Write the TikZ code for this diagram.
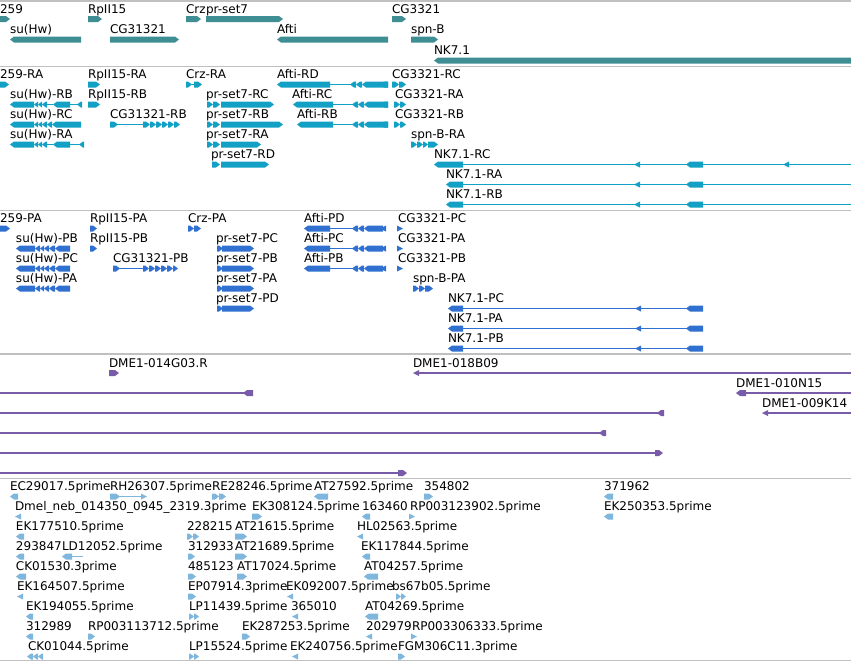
\documentclass[tikz,border=0pt]{standalone}
\usepackage{fontspec}
\setmainfont{DejaVu Sans}
\newcount\lbc
\definecolor{gC}{RGB}{62,142,148}
\definecolor{tC}{RGB}{18,160,196}
\definecolor{pC}{RGB}{48,112,208}
\definecolor{uC}{RGB}{120,92,170}
\definecolor{lC}{RGB}{126,182,222}
\definecolor{sepC}{RGB}{192,192,192}
\tikzset{lbl/.style={anchor=base west,inner sep=0pt,outer sep=0pt,font=\fontsize{12}{12}\selectfont,text=black},
 sepline/.style={draw=sepC,line width=1.5pt}}
% forward block: x1 x2 y colour
\newcommand\gf[4]{\fill[#4] (#1,{#3-3}) -- ({#2-4},{#3-3}) -- (#2,#3) -- ({#2-4},{#3+3}) -- (#1,{#3+3}) -- cycle;}
% reverse block
\newcommand\gr[4]{\fill[#4] (#1,#3) -- ({#1+4},{#3-3}) -- (#2,{#3-3}) -- (#2,{#3+3}) -- ({#1+4},{#3+3}) -- cycle;}
% intron / line
\newcommand\intr[4]{\draw[#4,line width=1.2pt] (#1,#3) -- (#2,#3);}
% small triangles
\newcommand\tril[3]{\fill[#3] (#1,#2) -- ({#1+6},{#2-3}) -- ({#1+6},{#2+3}) -- cycle;}
\newcommand\trir[3]{\fill[#3] (#1,#2) -- ({#1-6},{#2-3}) -- ({#1-6},{#2+3}) -- cycle;}
% label
\newcommand\lb[3]{\node[lbl] (n\the\lbc) at (#1,#2) {#3};\global\advance\lbc by 1 }
\begin{document}
\begin{tikzpicture}[x=1pt,y=-1pt]
\fill[white] (0,0) rectangle (851,662);
\useasboundingbox (0,0) rectangle (851,662);
% separators
\foreach \yy in {1,66.5,210.5,354,478.5,660.5} \draw[sepline] (0,\yy) -- (851,\yy);
% ================= track 1 genes
\lb{0}{13}{259}\gf{0}{10}{19}{gC}
\lb{88}{13}{RpII15}\gf{88}{102}{19}{gC}
\lb{186}{13}{Crz}\gf{186}{201}{19}{gC}
\lb{206}{13}{pr-set7}\gf{206}{283}{19}{gC}
\lb{392}{13}{CG3321}\gf{392}{406}{19}{gC}
\lb{10}{33.5}{su(Hw)}\gr{10}{81}{39.5}{gC}
\lb{110}{33.5}{CG31321}\gf{110}{179}{39.5}{gC}
\lb{277}{33.5}{Afti}\gr{277}{388}{39.5}{gC}
\lb{411}{33.5}{spn-B}\gf{411}{438}{39.5}{gC}
\lb{434}{54.5}{NK7.1}\gr{434}{851}{60.5}{gC}
% ================= track 2 transcripts
% row A 84.5
\lb{0}{78.5}{259-RA}\gf{0}{9}{84.5}{tC}
\lb{88}{78.5}{RpII15-RA}\gf{88}{100}{84.5}{tC}
\lb{186}{78.5}{Crz-RA}\gf{186}{192}{84.5}{tC}\intr{192}{195}{84.5}{tC}\gf{194}{202}{84.5}{tC}
\lb{277}{78.5}{Afti-RD}\gr{277}{330}{84.5}{tC}\intr{330}{351}{84.5}{tC}\gr{350}{356}{84.5}{tC}\gr{356}{362}{84.5}{tC}\gr{362}{388}{84.5}{tC}
\lb{392}{78.5}{CG3321-RC}\gr{380}{388}{84.5}{tC}\gf{392}{399}{84.5}{tC}\gf{399}{406}{84.5}{tC}
% row B 104.5
\lb{10}{98.5}{su(Hw)-RB}\gr{10}{34}{104.5}{tC}\gr{34}{38}{104.5}{tC}\gr{38}{42}{104.5}{tC}\gr{42}{47}{104.5}{tC}\intr{47}{53}{104.5}{tC}\gr{53}{70}{104.5}{tC}\intr{70}{78}{104.5}{tC}\gr{77}{82}{104.5}{tC}
\lb{88}{98.5}{RpII15-RB}\gf{88}{100}{104.5}{tC}
\lb{206}{98.5}{pr-set7-RC}\gf{207}{213}{104.5}{tC}\gf{213}{220}{104.5}{tC}\gf{221}{274}{104.5}{tC}
\lb{292}{98.5}{Afti-RC}\gr{293}{333}{104.5}{tC}\intr{333}{353}{104.5}{tC}\gr{352}{358}{104.5}{tC}\gr{358}{364}{104.5}{tC}\gr{364}{388}{104.5}{tC}
\lb{395}{98.5}{CG3321-RA}\gr{380}{388}{104.5}{tC}\gf{394}{400}{104.5}{tC}\gf{400}{406}{104.5}{tC}
% row C 124.5
\lb{10}{118.5}{su(Hw)-RC}\gr{10}{34}{124.5}{tC}\gr{34}{38}{124.5}{tC}\gr{38}{42}{124.5}{tC}\gr{42}{47}{124.5}{tC}\gr{47}{52}{124.5}{tC}\gr{52}{81}{124.5}{tC}
\lb{110}{118.5}{CG31321-RB}\gf{110}{118}{124.5}{tC}\intr{117}{143}{124.5}{tC}\gf{143}{150}{124.5}{tC}\gf{150}{156}{124.5}{tC}\gf{156}{162}{124.5}{tC}\gf{162}{168}{124.5}{tC}\gf{168}{174}{124.5}{tC}\gf{174}{180}{124.5}{tC}
\lb{206}{118.5}{pr-set7-RB}\gf{207}{213}{124.5}{tC}\gf{213}{220}{124.5}{tC}\gf{221}{283}{124.5}{tC}
\lb{297}{118.5}{Afti-RB}\gr{297}{333}{124.5}{tC}\intr{333}{353}{124.5}{tC}\gr{352}{358}{124.5}{tC}\gr{358}{364}{124.5}{tC}\gr{364}{388}{124.5}{tC}
\lb{395}{118.5}{CG3321-RB}\gr{380}{388}{124.5}{tC}\gf{394}{400}{124.5}{tC}\gf{400}{406}{124.5}{tC}
% row D 144.5
\lb{10}{138.5}{su(Hw)-RA}\gr{10}{34}{144.5}{tC}\gr{34}{38}{144.5}{tC}\gr{38}{42}{144.5}{tC}\gr{42}{47}{144.5}{tC}\intr{47}{53}{144.5}{tC}\gr{53}{70}{144.5}{tC}\intr{70}{82}{144.5}{tC}\gr{79}{84}{144.5}{tC}
\lb{206}{138.5}{pr-set7-RA}\gf{207}{213}{144.5}{tC}\gf{213}{220}{144.5}{tC}\gf{221}{261}{144.5}{tC}
\lb{411}{138.5}{spn-B-RA}\gf{411}{417}{144.5}{tC}\gf{417}{423}{144.5}{tC}\gf{423}{428}{144.5}{tC}\gf{428}{438}{144.5}{tC}
% row E 164.5
\lb{211}{158.5}{pr-set7-RD}\gf{212}{220}{164.5}{tC}\gf{221}{269}{164.5}{tC}
\lb{434}{158.5}{NK7.1-RC}\intr{460}{851}{164.5}{tC}\gr{434}{463}{164.5}{tC}\tril{634}{164.5}{tC}\gr{686}{703}{164.5}{tC}\tril{783}{164.5}{tC}
% row F 184.5
\lb{446}{178.5}{NK7.1-RA}\intr{460}{851}{184.5}{tC}\gr{446}{463}{184.5}{tC}\tril{634}{184.5}{tC}\gr{686}{703}{184.5}{tC}
% row G 204.5
\lb{446}{198.5}{NK7.1-RB}\intr{460}{851}{204.5}{tC}\gr{446}{463}{204.5}{tC}\tril{634}{204.5}{tC}\gr{686}{703}{204.5}{tC}
% ================= track 3 proteins
% row A 228.5
\lb{0}{222.5}{259-PA}\gf{0}{10}{228.5}{pC}
\lb{90}{222.5}{RpII15-PA}\gf{90}{97}{228.5}{pC}
\lb{188}{222.5}{Crz-PA}\gf{188}{194}{228.5}{pC}\gf{194}{201}{228.5}{pC}
\lb{304}{222.5}{Afti-PD}\gr{304}{330}{228.5}{pC}\intr{330}{353}{228.5}{pC}\gr{352}{358}{228.5}{pC}\gr{358}{364}{228.5}{pC}\gr{364}{383}{228.5}{pC}
\lb{398}{222.5}{CG3321-PC}\tril{380}{228.5}{pC}\trir{403}{228.5}{pC}
% row B 248.5
\lb{16}{242.5}{su(Hw)-PB}\gr{16}{35}{248.5}{pC}\gr{35}{40}{248.5}{pC}\gr{40}{44}{248.5}{pC}\gr{44}{49}{248.5}{pC}\gr{49}{55}{248.5}{pC}\gr{55}{70}{248.5}{pC}
\lb{90}{242.5}{RpII15-PB}\gf{90}{97}{248.5}{pC}
\lb{216}{242.5}{pr-set7-PC}\gf{217}{223}{248.5}{pC}\gf{222}{254}{248.5}{pC}
\lb{304}{242.5}{Afti-PC}\gr{304}{330}{248.5}{pC}\intr{330}{353}{248.5}{pC}\gr{352}{358}{248.5}{pC}\gr{358}{364}{248.5}{pC}\gr{364}{383}{248.5}{pC}
\lb{398}{242.5}{CG3321-PA}\tril{380}{248.5}{pC}\trir{403}{248.5}{pC}
% row C 268.5
\lb{16}{262.5}{su(Hw)-PC}\gr{16}{35}{268.5}{pC}\gr{35}{40}{268.5}{pC}\gr{40}{44}{268.5}{pC}\gr{44}{49}{268.5}{pC}\gr{49}{55}{268.5}{pC}\gr{55}{70}{268.5}{pC}
\lb{113}{262.5}{CG31321-PB}\gf{113}{120}{268.5}{pC}\intr{119}{143}{268.5}{pC}\gf{143}{149}{268.5}{pC}\gf{149}{155}{268.5}{pC}\gf{155}{161}{268.5}{pC}\gf{161}{167}{268.5}{pC}\gf{167}{173}{268.5}{pC}\gf{173}{178}{268.5}{pC}
\lb{216}{262.5}{pr-set7-PB}\gf{217}{223}{268.5}{pC}\gf{222}{254}{268.5}{pC}
\lb{304}{262.5}{Afti-PB}\gr{304}{330}{268.5}{pC}\intr{330}{353}{268.5}{pC}\gr{352}{358}{268.5}{pC}\gr{358}{364}{268.5}{pC}\gr{364}{383}{268.5}{pC}
\lb{398}{262.5}{CG3321-PB}\tril{380}{268.5}{pC}\trir{403}{268.5}{pC}
% row D 288.5
\lb{16}{282.5}{su(Hw)-PA}\gr{16}{35}{288.5}{pC}\gr{35}{40}{288.5}{pC}\gr{40}{44}{288.5}{pC}\gr{44}{49}{288.5}{pC}\gr{49}{55}{288.5}{pC}\gr{55}{70}{288.5}{pC}
\lb{216}{282.5}{pr-set7-PA}\gf{217}{223}{288.5}{pC}\gf{222}{254}{288.5}{pC}
\lb{413}{282.5}{spn-B-PA}\gf{413}{419}{288.5}{pC}\gf{419}{425}{288.5}{pC}\gf{425}{433}{288.5}{pC}
% row E 308.5
\lb{216}{302.5}{pr-set7-PD}\gf{217}{223}{308.5}{pC}\gf{222}{254}{308.5}{pC}
\lb{448}{302.5}{NK7.1-PC}\intr{460}{688}{308.5}{pC}\gr{448}{463}{308.5}{pC}\tril{635}{308.5}{pC}\gr{686}{703}{308.5}{pC}
% row F 328.5
\lb{448}{322.5}{NK7.1-PA}\intr{460}{688}{328.5}{pC}\gr{448}{463}{328.5}{pC}\tril{635}{328.5}{pC}\gr{686}{703}{328.5}{pC}
% row G 348.5
\lb{448}{342.5}{NK7.1-PB}\intr{460}{688}{348.5}{pC}\gr{448}{463}{348.5}{pC}\tril{635}{348.5}{pC}\gr{686}{703}{348.5}{pC}
% ================= track 4 purple
\lb{109}{367}{DME1-014G03.R}\gf{109}{119}{373}{uC}
\lb{413}{367}{DME1-018B09}\intr{418}{851}{373}{uC}\tril{413}{373}{uC}
\intr{0}{245}{393}{uC}\gr{243}{253}{393}{uC}
\lb{736}{387}{DME1-010N15}\intr{740}{851}{393}{uC}\gr{736}{746}{393}{uC}
\intr{0}{659}{413}{uC}\gr{657}{664}{413}{uC}
\lb{762}{407}{DME1-009K14}\intr{766}{851}{413}{uC}\tril{762}{413}{uC}
\intr{0}{601}{433}{uC}\gr{599}{606}{433}{uC}
\intr{0}{658}{453}{uC}\gf{655}{663}{453}{uC}
\intr{0}{400}{473}{uC}\gf{398}{407}{473}{uC}
% ================= track 5 light blue
% row 0 496.5
\lb{10}{490.5}{EC29017.5prime}\gr{10}{18}{496.5}{lC}
\lb{110}{490.5}{RH26307.5prime}\gf{110}{120}{496.5}{lC}\intr{119}{145}{496.5}{lC}\trir{147}{496.5}{lC}
\lb{212}{490.5}{RE28246.5prime}\gf{212}{219}{496.5}{lC}\gf{219}{226}{496.5}{lC}
\lb{314}{490.5}{AT27592.5prime}\gr{314}{328}{496.5}{lC}
\lb{424}{490.5}{354802}\gf{424}{433}{496.5}{lC}
\lb{604}{490.5}{371962}\gr{604}{613}{496.5}{lC}
% row 1 516.5
\lb{15}{510.5}{Dmel\_neb\_014350\_0945\_2319.3prime}\tril{15}{516.5}{lC}
\lb{252}{510.5}{EK308124.5prime}\gf{252}{262}{516.5}{lC}
\lb{362}{510.5}{163460}\gr{362}{370}{516.5}{lC}
\lb{410}{510.5}{RP003123902.5prime}\trir{415}{516.5}{lC}
\lb{604}{510.5}{EK250353.5prime}\gr{604}{613}{516.5}{lC}
% row 2 536.5
\lb{16}{530.5}{EK177510.5prime}\gr{16}{24}{536.5}{lC}
\lb{187}{530.5}{228215}\gf{187}{193}{536.5}{lC}\gf{193}{199}{536.5}{lC}
\lb{235}{530.5}{AT21615.5prime}\gf{235}{247}{536.5}{lC}
\lb{357}{530.5}{HL02563.5prime}\tril{357}{536.5}{lC}
% row 3 556.5
\lb{16}{550.5}{293847}\gr{16}{24}{556.5}{lC}
\lb{62}{550.5}{LD12052.5prime}\gr{62}{72}{556.5}{lC}\intr{71}{83}{556.5}{lC}
\lb{188}{550.5}{312933}\gf{188}{195}{556.5}{lC}
\lb{235}{550.5}{AT21689.5prime}\gf{235}{247}{556.5}{lC}
\lb{361}{550.5}{EK117844.5prime}\gr{362}{370}{556.5}{lC}
% row 4 576.5
\lb{16}{570.5}{CK01530.3prime}\gr{16}{26}{576.5}{lC}
\lb{188}{570.5}{485123}\gf{188}{196}{576.5}{lC}
\lb{237}{570.5}{AT17024.5prime}\gf{237}{247}{576.5}{lC}
\lb{364}{570.5}{AT04257.5prime}\gr{364}{378}{576.5}{lC}
% row 5 596.5
\lb{17}{590.5}{EK164507.5prime}\tril{17}{596.5}{lC}
\lb{188}{590.5}{EP07914.3prime}\gf{188}{196}{596.5}{lC}
\lb{286}{590.5}{EK092007.5prime}\tril{287}{596.5}{lC}
\lb{392}{590.5}{bs67b05.5prime}\gf{396}{401}{596.5}{lC}\gf{401}{406}{596.5}{lC}
% row 6 616.5
\lb{26}{610.5}{EK194055.5prime}\gr{26}{33}{616.5}{lC}
\lb{189}{610.5}{LP11439.5prime}\gf{189}{194}{616.5}{lC}\gf{194}{199}{616.5}{lC}
\lb{291}{610.5}{365010}\tril{292}{616.5}{lC}
\lb{365}{610.5}{AT04269.5prime}\gr{365}{378}{616.5}{lC}
% row 7 636.5
\lb{26}{630.5}{312989}\gr{26}{33}{636.5}{lC}
\lb{88}{630.5}{RP003113712.5prime}\gf{88}{95}{636.5}{lC}
\lb{242}{630.5}{EK287253.5prime}\gf{242}{250}{636.5}{lC}
\lb{366}{630.5}{202979}\tril{366}{636.5}{lC}
\lb{412}{630.5}{RP003306333.5prime}\trir{417}{636.5}{lC}
% row 8 656.5
\lb{28}{650.5}{CK01044.5prime}\gr{27}{33}{656.5}{lC}\gr{33}{38}{656.5}{lC}\gr{38}{43}{656.5}{lC}
\lb{189}{650.5}{LP15524.5prime}\gf{189}{194}{656.5}{lC}\gf{194}{199}{656.5}{lC}
\lb{290}{650.5}{EK240756.5prime}\tril{292}{656.5}{lC}
\lb{398}{650.5}{FGM306C11.3prime}\gf{398}{405}{656.5}{lC}
\end{tikzpicture}
\end{document}
